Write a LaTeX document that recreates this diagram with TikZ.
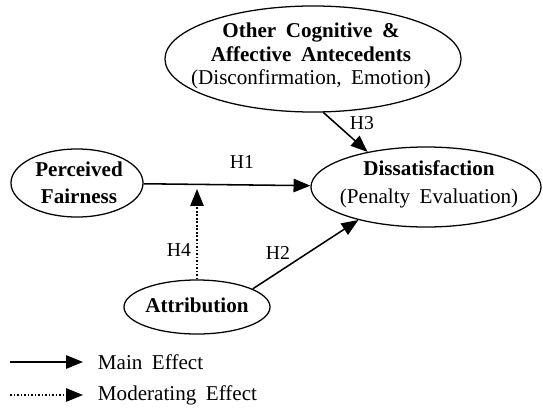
\documentclass[tikz,border=0pt]{standalone}
\usepackage{fontspec}
\setmainfont[WordSpace=1.8]{Liberation Serif}
\usetikzlibrary{shapes.geometric, arrows.meta}

\begin{document}
\begin{tikzpicture}[x=0.025cm, y=-0.025cm,
  construct/.style={ellipse, draw, line width=0.9pt, inner sep=0pt},
  txt/.style={align=center, font=\fontsize{15}{17}\selectfont},
  hyp/.style={font=\fontsize{14}{16}\selectfont},
  effect/.style={line width=1.1pt, -{Triangle[length=12pt, width=9.5pt]}},
  moderate/.style={effect, dash pattern=on 1.2pt off 1.3pt}]

\useasboundingbox (0,0) rectangle (543,407);

%─────────────
% Constructs
%─────────────
\node[construct, minimum width=7.4cm, minimum height=2.65cm] (other) at (313,59) {};
\node[construct, minimum width=3.3cm, minimum height=1.7cm] (fair) at (77,183) {};
\node[construct, minimum width=5.75cm, minimum height=2cm] (dissat) at (426,187) {};
\node[construct, minimum width=3.65cm, minimum height=1.35cm] (attr) at (197,307) {};

% texts inside the ellipses
\node[txt] (otherT) at (311,56)
  {{\bfseries Other Cognitive \&}\\{\bfseries Affective Antecedents}\\(Disconfirmation, Emotion)};
\node[txt] (fairT) at (79,183) {{\bfseries Perceived}\\[2pt]{\bfseries Fairness}};
\node[txt] (dissatT) at (429,184) {{\bfseries Dissatisfaction}\\[3pt](Penalty Evaluation)};
\node[txt] (attrT) at (197,305) {\bfseries Attribution};

%─────────────
% Effects
%─────────────
\coordinate (mod) at (197,189);  % moderation point on H1

\draw[effect] (fair) -- (dissat);
\draw[effect] (attr.18) -- (dissat.206);
\draw[effect] (other.-79) -- (dissat.149);
\draw[moderate] (attr) -- (mod);

\node[hyp] (h1) at (242,162) {H1};
\node[hyp] (h2) at (278,253) {H2};
\node[hyp] (h3) at (362,123) {H3};
\node[hyp] (h4) at (179,250) {H4};

%─────────────
% Legend
%─────────────
\coordinate (mainA) at (10,362);
\coordinate (mainB) at (83,362);
\coordinate (modA) at (10,395);
\coordinate (modB) at (83,395);

\draw[effect] (mainA) -- (mainB);
\draw[moderate] (modA) -- (modB);

\node[txt, anchor=west] (mainT) at (93,362) {Main Effect};
\node[txt, anchor=west] (modT) at (93,395) {Moderating Effect};

\end{tikzpicture}
\end{document}
